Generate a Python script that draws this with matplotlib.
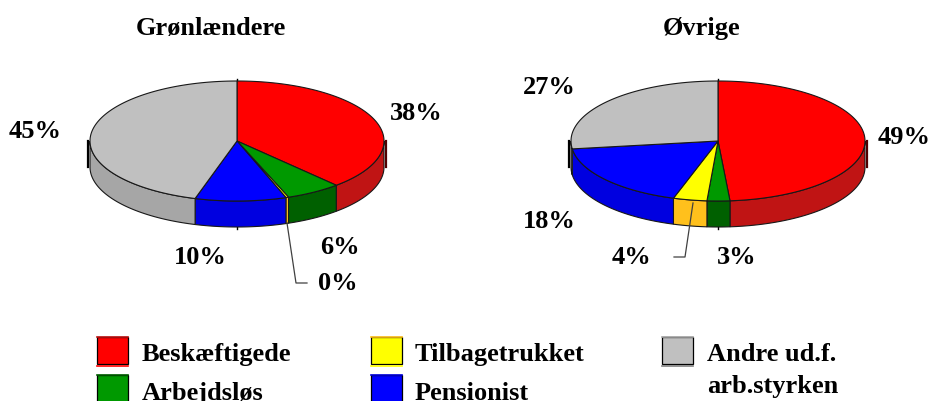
import numpy as np
import matplotlib
matplotlib.use("Agg")
import matplotlib.pyplot as plt
from matplotlib.patches import Rectangle

# data
categories = ["Beskæftigede", "Arbejdsløs", "Tilbagetrukket", "Pensionist", "Andre ud.f.\narb.styrken"]
groenlaendere = [38.2, 6.1, 0.3, 10.0, 45.4]
oevrige = [48.7, 2.5, 3.7, 18.0, 27.1]
labels_g = ["38%", "6%", "0%", "10%", "45%"]
labels_o = ["49%", "3%", "4%", "18%", "27%"]

top_colors = ["#FF0000", "#009900", "#FFFF00", "#0000FF", "#C0C0C0"]
side_colors = ["#C01414", "#006000", "#FFC01C", "#0000E0", "#A6A6A6"]

RX, RY, DEPTH = 147, 60, 26
CY = 141

plt.rcParams["font.family"] = "Liberation Serif"
plt.rcParams["font.weight"] = "bold"
FS = 19

fig = plt.figure(figsize=(9.32, 4.01), dpi=100)
ax = fig.add_axes([0, 0, 1, 1])
ax.set_xlim(0, 932)
ax.set_ylim(401, 0)
ax.axis("off")


def arc(cx, cy, t0, t1):
    # angle goes clockwise from the top of the ellipse
    t = np.radians(np.linspace(t0, t1, max(int(abs(t1 - t0) * 2), 2)))
    return cx + RX * np.sin(t), cy - RY * np.cos(t)


def pie3d(cx, values):
    edges = np.cumsum([0] + list(values)) / sum(values) * 360
    # little marks and the outer wall stubs
    ax.plot([cx - RX - 2, cx - RX - 2], [CY, CY + DEPTH], color="black", lw=1.6, zorder=1)
    ax.plot([cx + RX + 2, cx + RX + 2], [CY, CY + DEPTH], color="#500000", lw=1.6, zorder=1)
    ax.plot([cx, cx], [CY - RY - 2, CY - RY], color="black", lw=1, zorder=1)
    ax.plot([cx, cx], [CY + RY + DEPTH, CY + RY + DEPTH + 2], color="black", lw=1, zorder=1)
    # side wall, only the front half shows
    for i in range(len(values)):
        t0 = max(edges[i], 90)
        t1 = min(edges[i + 1], 270)
        if t1 <= t0:
            continue
        x, y = arc(cx, CY, t0, t1)
        px = np.concatenate([x, x[::-1]])
        py = np.concatenate([y, y[::-1] + DEPTH])
        ax.fill(px, py, facecolor=side_colors[i], edgecolor="#181818", lw=0.8, zorder=2)
    # top face
    for i in range(len(values)):
        x, y = arc(cx, CY, edges[i], edges[i + 1])
        ax.fill(np.r_[cx, x], np.r_[CY, y], facecolor=top_colors[i], edgecolor="#181818", lw=0.8, zorder=3)


pie3d(237, groenlaendere)
pie3d(718, oevrige)


def txt(x, y, s, **kw):
    ax.text(x, y, s, fontsize=FS, ha="center", va="center", color="black", zorder=6, **kw)


txt(211, 28, "Grønlændere")
txt(702, 28, "Øvrige")

pos_g = [(416, 113), (340, 247), (338, 283), (200, 257), (35, 132)]
pos_o = [(904, 138), (737, 257), (632, 257), (549, 221), (549, 87)]
for (x, y), s in zip(pos_g, labels_g):
    txt(x, y, s)
for (x, y), s in zip(pos_o, labels_o):
    txt(x, y, s)

# leader lines
ax.plot([287, 296, 307], [223, 283, 283], color="#404040", lw=0.9, zorder=5)
ax.plot([693, 685, 674], [203, 257, 257], color="#404040", lw=0.9, zorder=5)

# legend
swatches = [(97, 337), (97, 375), (371, 337), (371, 375), (662, 337)]
text_pos = [(142, 361), (142, 400), (415, 361), (415, 400), (707, 361)]
shadow = ["#FF0000", None, "#FFFF00", None, "#808080"]
for i, name in enumerate(categories):
    sx, sy = swatches[i]
    ax.add_patch(Rectangle((sx, sy), 31, 27, facecolor=top_colors[i], edgecolor="black", lw=0.9, zorder=4))
    ax.plot([sx, sx + 31], [sy, sy], color=side_colors[i], lw=1.2, zorder=5)
    if shadow[i]:
        ax.plot([sx, sx + 31], [sy + 28.5, sy + 28.5], color=shadow[i], lw=1.2, zorder=5)
    tx, ty = text_pos[i]
    lines = name.split("\n")
    ax.text(tx, ty, lines[0], fontsize=FS, ha="left", va="baseline")
    if len(lines) > 1:
        ax.text(tx, ty + 32, lines[1], fontsize=FS, ha="left", va="baseline")

fig.savefig("out.png", dpi=100)
